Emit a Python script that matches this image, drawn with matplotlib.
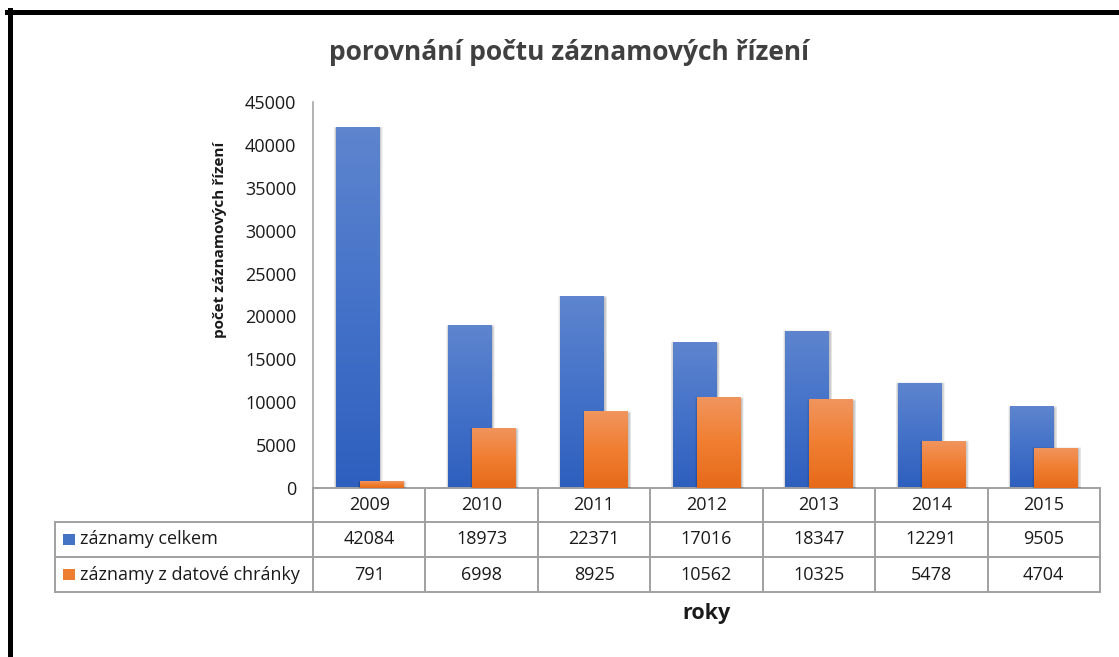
import numpy as np
import matplotlib
matplotlib.use("Agg")
import matplotlib.pyplot as plt
from matplotlib.patches import Rectangle
from matplotlib.lines import Line2D
from matplotlib.colors import LinearSegmentedColormap

plt.rcParams['font.family'] = ['Open Sans', 'DejaVu Sans']

# data
roky = ['2009', '2010', '2011', '2012', '2013', '2014', '2015']
zaznamy_celkem = [42084, 18973, 22371, 17016, 18347, 12291, 9505]
zaznamy_ds = [791, 6998, 8925, 10562, 10325, 5478, 4704]
serie = ['záznamy celkem', 'záznamy z datové chránky']

W, H = 1119, 657


def fx(x):
    return x / W


def fy(y):
    return 1 - y / H


fig = plt.figure(figsize=(W / 100, H / 100), dpi=100)
fig.patch.set_facecolor('white')

# plot area in pixels
left, right, top, bottom = 313, 1100, 102, 488
ax = fig.add_axes([fx(left), fy(bottom), fx(right) - fx(left), fy(top) - fy(bottom)])

blue_cm = LinearSegmentedColormap.from_list('b', ['#2E5FBE', '#4472C9', '#5E85CE'])
orange_cm = LinearSegmentedColormap.from_list('o', ['#E66A1A', '#F07E31', '#F1955E'])
grad = np.linspace(0, 1, 256).reshape(-1, 1)

width = 0.385
offset = 0.107
x = np.arange(len(roky))


def gradient_bars(xs, vals, cmap, z):
    bars = ax.bar(xs, vals, width, color='none', zorder=z)
    for b in bars:
        x0, w, h = b.get_x(), b.get_width(), b.get_height()
        # soft shadow, mostly at the sides
        for k in range(1, 6):
            pw = 0.005 * k
            ph = 45000 * 0.0012 * k
            ax.add_patch(Rectangle((x0 - pw + 0.008, 0), w + 2 * pw, h + ph - 250,
                                   facecolor='black', alpha=0.05, lw=0, zorder=z - 0.5))
        im = ax.imshow(grad, cmap=cmap, aspect='auto', origin='lower',
                       extent=(x0, x0 + w, 0, h), zorder=z)
        im.set_clip_path(b)
    return bars


gradient_bars(x - offset, zaznamy_celkem, blue_cm, 2)
gradient_bars(x + offset, zaznamy_ds, orange_cm, 4)

ax.set_xlim(-0.5, len(roky) - 0.5)
ax.set_ylim(0, 45000)
ax.set_yticks(np.arange(0, 45001, 5000))
ax.tick_params(axis='y', length=0, pad=12, labelsize=13, labelcolor='#1a1a1a')
ax.set_xticks([])
for s in ['top', 'right']:
    ax.spines[s].set_visible(False)
ax.spines['left'].set_color('#A6A6A6')
ax.spines['bottom'].set_color('#A0A0A0')
ax.spines['left'].set_linewidth(1.2)
ax.spines['bottom'].set_linewidth(1.4)

# data table below the chart
lc = '#A0A0A0'
lw = 1.4
col_w = (right - left) / len(roky)
rows = [488, 522, 557, 592]
tab_left = 55
fs = 13


def hline(y, x0, x1):
    fig.add_artist(Line2D([fx(x0), fx(x1)], [fy(y), fy(y)], color=lc, lw=lw))


def vline(xp, y0, y1):
    fig.add_artist(Line2D([fx(xp), fx(xp)], [fy(y0), fy(y1)], color=lc, lw=lw))


hline(rows[1], tab_left, right)
hline(rows[2], tab_left, right)
hline(rows[3], tab_left, right)
vline(tab_left, rows[1], rows[3])
for i in range(len(roky) + 1):
    vline(left + i * col_w, rows[0], rows[3])

for i, r in enumerate(roky):
    cx = left + (i + 0.5) * col_w
    fig.text(fx(cx), fy((rows[0] + rows[1]) / 2), r, ha='center', va='center',
             fontsize=fs, color='#1a1a1a')
    fig.text(fx(cx), fy((rows[1] + rows[2]) / 2), str(zaznamy_celkem[i]), ha='center',
             va='center', fontsize=fs, color='#1a1a1a')
    fig.text(fx(cx), fy((rows[2] + rows[3]) / 2), str(zaznamy_ds[i]), ha='center',
             va='center', fontsize=fs, color='#1a1a1a')

for j, (name, col) in enumerate(zip(serie, ['#4472C4', '#ED7D31'])):
    yc = (rows[j + 1] + rows[j + 2]) / 2
    fig.add_artist(Rectangle((fx(63), fy(yc + 5.5)), fx(12), 11 / H,
                             facecolor=col, edgecolor='none'))
    fig.text(fx(80), fy(yc), name, ha='left', va='center', fontsize=fs, color='#1a1a1a')

# texts
fig.text(fx(569), fy(52), 'porovnání počtu záznamových řízení', ha='center', va='center',
         fontsize=19, fontweight='bold', color='#404040')
fig.text(fx(707), fy(614), 'roky', ha='center', va='center',
         fontsize=15.5, fontweight='bold', color='#1a1a1a')
fig.text(fx(220), fy(240), 'počet záznamových řízení', ha='center', va='center',
         rotation=90, fontsize=11, fontweight='bold', color='#1a1a1a')

# outer frame (left and top only visible)
fig.add_artist(Line2D([fx(9.5), fx(9.5)], [fy(10), fy(H + 5)], color='black', lw=3.6))
fig.add_artist(Line2D([fx(7), fx(W + 5)], [fy(11.5), fy(11.5)], color='black', lw=3.6))

fig.savefig('out.png', dpi=100, facecolor='white')
